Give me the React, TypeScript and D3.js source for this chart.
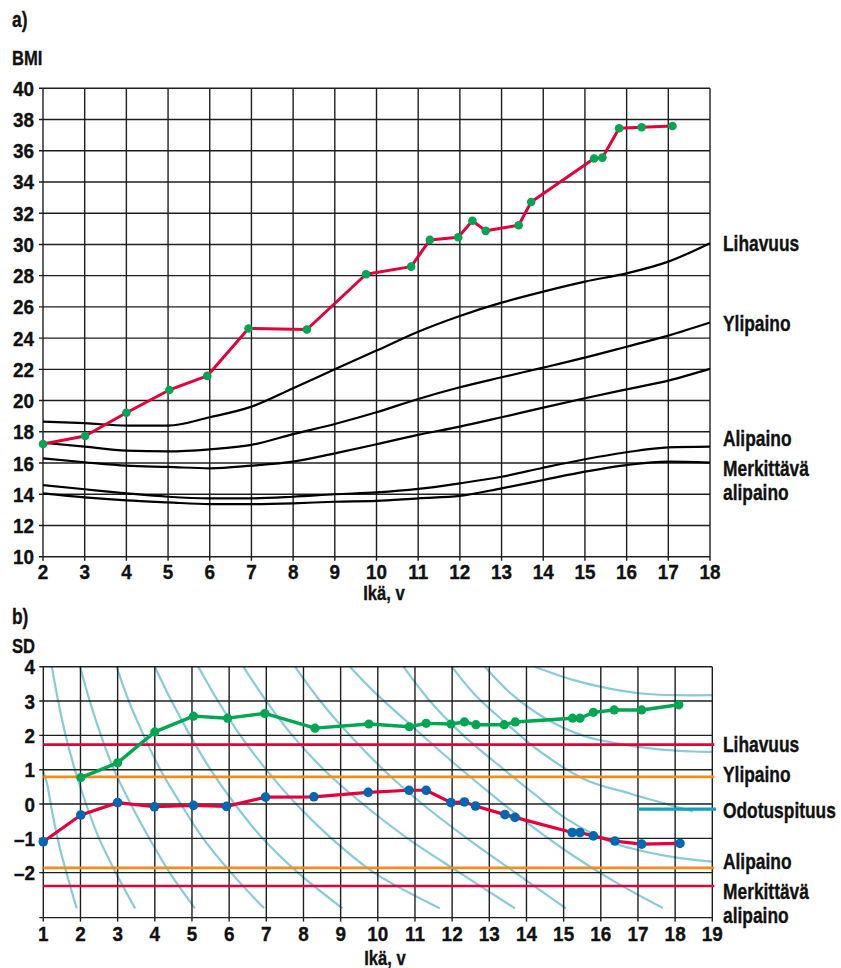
import React from 'react';
import * as d3 from 'd3';

// ---- panel a) BMI ----
const bmiAges = [2, 3.01, 4, 5.03, 5.94, 6.93, 8.33, 9.75, 10.83, 11.28, 11.96, 12.3, 12.62, 13.41, 13.71, 15.22, 15.42, 15.82, 16.36, 17.1];
const bmiValues = [17.22, 17.73, 19.22, 20.68, 21.58, 24.62, 24.55, 28.09, 28.58, 30.29, 30.46, 31.52, 30.87, 31.23, 32.72, 35.5, 35.56, 37.44, 37.51, 37.59];

const refAges = [2, 3, 4, 5, 6, 7, 8, 9, 10, 11, 12, 13, 14, 15, 16, 17, 18];
const refObesity = [18.65, 18.55, 18.4, 18.39, 18.93, 19.61, 20.79, 22.0, 23.2, 24.41, 25.42, 26.27, 26.98, 27.62, 28.15, 28.9, 30.08];
const refOverweight = [17.3, 17.05, 16.8, 16.75, 16.88, 17.16, 17.85, 18.5, 19.25, 20.1, 20.85, 21.49, 22.11, 22.75, 23.45, 24.16, 25.0];
const refMiddle = [16.3, 16.05, 15.83, 15.75, 15.66, 15.83, 16.09, 16.62, 17.2, 17.8, 18.33, 18.93, 19.55, 20.15, 20.72, 21.28, 22.03];
const refUnderweight = [14.59, 14.32, 14.06, 13.84, 13.74, 13.74, 13.84, 14.0, 14.12, 14.34, 14.7, 15.12, 15.7, 16.24, 16.69, 17.0, 17.05];
const refSevere = [14.06, 13.8, 13.61, 13.48, 13.37, 13.37, 13.42, 13.52, 13.57, 13.74, 13.89, 14.38, 14.91, 15.45, 15.87, 16.09, 16.02];

const aXTicks = [2, 3, 4, 5, 6, 7, 8, 9, 10, 11, 12, 13, 14, 15, 16, 17, 18];
const aYTicks = [10, 12, 14, 16, 18, 20, 22, 24, 26, 28, 30, 32, 34, 36, 38, 40];
const aLabels = [
  { text: 'Lihavuus', v: 30.08 },
  { text: 'Ylipaino', v: 25.0 },
  { text: 'Alipaino', v: 17.6 },
  { text: 'Merkittävä', v: 15.7 },
  { text: 'alipaino', v: 14.15 },
];

// ---- panel b) SD ----
const bmiSdAges = [2.01, 3.0, 4.0, 5.04, 5.96, 6.96, 8.31, 9.76, 10.85, 11.3, 11.97, 12.33, 12.64, 13.4, 13.7, 15.24, 15.44, 15.8, 16.36, 17.1, 18.1];
const bmiSd = [0.77, 1.2, 2.1, 2.56, 2.5, 2.64, 2.21, 2.33, 2.25, 2.35, 2.33, 2.39, 2.31, 2.31, 2.39, 2.5, 2.5, 2.67, 2.74, 2.74, 2.89];
const heightSdAges = [1.0, 2.01, 3.0, 3.99, 5.04, 5.93, 6.98, 8.28, 9.74, 10.84, 11.3, 11.97, 12.33, 12.63, 13.42, 13.69, 15.23, 15.44, 15.8, 16.38, 17.1, 18.13];
const heightSd = [-1.1, -0.32, 0.04, -0.08, -0.04, -0.07, 0.2, 0.21, 0.34, 0.4, 0.4, 0.04, 0.06, -0.06, -0.31, -0.39, -0.83, -0.83, -0.93, -1.08, -1.17, -1.15];

const sdLimits = [
  { text: 'Lihavuus', v: 1.73, color: '#e4003a' },
  { text: 'Ylipaino', v: 0.79, color: '#f28c1a' },
  { text: 'Alipaino', v: -1.86, color: '#f28c1a' },
  { text: 'Merkittävä', v: -2.39, color: '#e4003a' },
];
const targetHeightSd = -0.15;
const targetFromAge = 17;

// background height-growth curves: [age, sd]
const growthCurves: [number, number][][] = [
  [[1.0, 0.95], [1.1, 0.6], [1.25, -0.3], [1.45, -1.3], [1.7, -2.3], [1.9, -3.04]],
  [[1.23, 4], [1.4, 3], [1.6, 2], [1.85, 1], [2.15, 0], [2.5, -1], [2.95, -2], [3.47, -3.04]],
  [[1.99, 4], [2.25, 3], [2.55, 2], [2.9, 1], [3.35, 0], [3.85, -1], [4.4, -2], [5.08, -3.04]],
  [[2.97, 4], [3.3, 3], [3.7, 2], [4.15, 1], [4.7, 0], [5.3, -1], [6.05, -2], [6.94, -3.04]],
  [[4.0, 4], [4.45, 3], [4.95, 2], [5.5, 1], [6.15, 0], [6.9, -1], [7.85, -2], [9.05, -3.04]],
  [[5.17, 4], [5.7, 3], [6.3, 2], [7.0, 1], [7.8, 0], [8.75, -1], [9.9, -2], [11.67, -3.04]],
  [[6.38, 4], [7.0, 3], [7.7, 2], [8.55, 1], [9.6, 0], [10.8, -1], [12.2, -2], [13.69, -3.04]],
  [[7.77, 4], [8.45, 3], [9.25, 2], [10.15, 1], [11.2, 0], [12.4, -1], [13.7, -2], [15.06, -3.04]],
  [[9.25, 4], [9.91, 3.26], [10.99, 2.2], [12.06, 1.18], [13.14, 0.21], [14.22, -0.71], [15.29, -1.53], [16.37, -2.26], [17.67, -3.03]],
  [[10.69, 4], [11.4, 3], [12.3, 2], [13.4, 1], [14.2, 0.3], [15.1, -0.45], [16.3, -1.12], [17.8, -1.52], [19, -1.68]],
  [[11.99, 4], [12.6, 3.2], [13.4, 2.4], [14.4, 1.5], [15.6, 0.7], [16.8, 0.3], [17.7, 0.02], [18.48, -0.22]],
  [[12.88, 4], [13.6, 3.2], [14.5, 2.5], [15.5, 2.0], [16.5, 1.75], [17.5, 1.6], [18.5, 1.53], [19, 1.52]],
  [[14.22, 4], [15.3, 3.6], [16.2, 3.37], [17.1, 3.22], [18, 3.17], [19, 3.17]],
];

const bXTicks = [1, 2, 3, 4, 5, 6, 7, 8, 9, 10, 11, 12, 13, 14, 15, 16, 17, 18, 19];
const bYTicks = [4, 3, 2, 1, 0, -1, -2];

const FONT = "'Liberation Sans', Arimo, Roboto, sans-serif";
const GRID = '#1e1e1e';
const RED = '#e4003a';
const GREEN = '#00a651';
const BLUE = '#0068b3';
const CYAN = '#86cbd9';

// condensed bold label (no condensed face installed, so squeeze horizontally)
const T = ({ x, y, children, anchor = 'start', size = 22, sx = 0.79 }: any) => (
  <text
    transform={`translate(${x},${y}) scale(${sx},1)`}
    fontFamily={FONT}
    fontWeight={700}
    fontSize={size}
    fill="#111"
    stroke="#111"
    strokeWidth={0.35}
    textAnchor={anchor}
  >
    {children}
  </text>
);

const App = () => {
  // scales
  const xA = d3.scaleLinear().domain([2, 18]).range([43, 710]);
  const yA = d3.scaleLinear().domain([10, 40]).range([556.7, 88.3]);
  const xB = d3.scaleLinear().domain([1, 19]).range([43.3, 712.3]);
  const yB = d3.scaleLinear().domain([0, 4]).range([804, 666.7]);
  const bBottom = -3.31;

  const refLine = d3.line<number>()
    .x((_, i) => xA(refAges[i]))
    .y(d => yA(d))
    .curve(d3.curveMonotoneX);
  const bmiLine = d3.line<number>()
    .x((_, i) => xA(bmiAges[i]))
    .y(d => yA(d));
  const bmiSdLine = d3.line<number>()
    .x((_, i) => xB(bmiSdAges[i]))
    .y(d => yB(d));
  const heightSdLine = d3.line<number>()
    .x((_, i) => xB(heightSdAges[i]))
    .y(d => yB(d));
  const growthLine = d3.line<[number, number]>()
    .x(d => xB(d[0]))
    .y(d => yB(d[1]))
    .curve(d3.curveCatmullRom.alpha(0.5));

  return (
    <svg width={841} height={968} style={{ position: 'absolute', left: 0, top: 0, background: '#fff' }}>
      {/* ===== panel a ===== */}
      <T x={12} y={27}>a)</T>
      <T x={12} y={65} size={21}>BMI</T>

      <g>
        {aXTicks.map(t => (
          <line key={'ax' + t} x1={xA(t)} x2={xA(t)} y1={yA(40)} y2={yA(10) + 4} stroke={GRID} strokeWidth={1.4} />
        ))}
        {aYTicks.map(t => (
          <line key={'ay' + t} x1={xA(2) - 4} x2={xA(18)} y1={yA(t)} y2={yA(t)} stroke={GRID} strokeWidth={1.4} />
        ))}
        {aYTicks.map(t => (
          <T key={'ayl' + t} x={34} y={yA(t) + 7.5} anchor="end" size={21} sx={0.9}>{t}</T>
        ))}
        {aXTicks.map(t => (
          <T key={'axl' + t} x={xA(t)} y={578.5} anchor="middle" size={21} sx={0.9}>{t}</T>
        ))}
        <T x={384} y={600} size={21} anchor="middle">Ikä, v</T>
      </g>

      {[refObesity, refOverweight, refMiddle, refUnderweight, refSevere].map((c, i) => (
        <path key={'ref' + i} d={refLine(c) || ''} fill="none" stroke="#000" strokeWidth={2.2} />
      ))}

      <path d={bmiLine(bmiValues) || ''} fill="none" stroke={RED} strokeWidth={3} strokeLinejoin="round" />
      {bmiValues.map((v, i) => (
        <circle key={'bp' + i} cx={xA(bmiAges[i])} cy={yA(v)} r={4.3} fill={GREEN} />
      ))}

      {aLabels.map(l => (
        <T key={'al' + l.text + l.v} x={723} y={yA(l.v) + 8}>{l.text}</T>
      ))}

      {/* ===== panel b ===== */}
      <T x={12} y={624}>b)</T>
      <T x={12} y={653} size={21}>SD</T>

      {growthCurves.map((c, i) => (
        <path key={'gc' + i} d={growthLine(c) || ''} fill="none" stroke={CYAN} strokeWidth={2.2} />
      ))}

      <g>
        {bXTicks.map(t => (
          <line key={'bx' + t} x1={xB(t)} x2={xB(t)} y1={yB(4)} y2={yB(bBottom) + 4} stroke={GRID} strokeWidth={1.4} />
        ))}
        {bYTicks.map(t => (
          <line key={'by' + t} x1={xB(1) - 4} x2={xB(19)} y1={yB(t)} y2={yB(t)} stroke={GRID} strokeWidth={1.4} />
        ))}
        <line x1={xB(1) - 4} x2={xB(19)} y1={yB(bBottom)} y2={yB(bBottom)} stroke={GRID} strokeWidth={1.4} />
        {bYTicks.map(t => (
          <T key={'byl' + t} x={35} y={yB(t) + 7.5} anchor="end" size={21} sx={0.9}>
            {t < 0 ? '–' + Math.abs(t) : t}
          </T>
        ))}
        {bXTicks.map(t => (
          <T key={'bxl' + t} x={xB(t)} y={940.5} anchor="middle" size={21} sx={0.9}>{t}</T>
        ))}
        <T x={385} y={965} size={21} anchor="middle">Ikä, v</T>
      </g>

      {sdLimits.map(l => (
        <line key={'lim' + l.text} x1={xB(1)} x2={xB(19) + 2} y1={yB(l.v)} y2={yB(l.v)} stroke={l.color} strokeWidth={2.6} />
      ))}
      <line x1={xB(targetFromAge)} x2={716} y1={yB(targetHeightSd)} y2={yB(targetHeightSd)} stroke="#16a2b6" strokeWidth={3.2} />

      <path d={bmiSdLine(bmiSd) || ''} fill="none" stroke={GREEN} strokeWidth={3.4} strokeLinejoin="round" />
      {bmiSd.map((v, i) => (
        <circle key={'gp' + i} cx={xB(bmiSdAges[i])} cy={yB(v)} r={4.6} fill={GREEN} />
      ))}
      <path d={heightSdLine(heightSd) || ''} fill="none" stroke={RED} strokeWidth={3.2} strokeLinejoin="round" />
      {heightSd.map((v, i) => (
        <circle key={'hp' + i} cx={xB(heightSdAges[i])} cy={yB(v)} r={4.8} fill={BLUE} />
      ))}

      <T x={723} y={751.5}>Lihavuus</T>
      <T x={723} y={781.5}>Ylipaino</T>
      <T x={723} y={817.5}>Odotuspituus</T>
      <T x={723} y={868.5}>Alipaino</T>
      <T x={723} y={898.5}>Merkittävä</T>
      <T x={723} y={922.5}>alipaino</T>
    </svg>
  );
};

export default App;
